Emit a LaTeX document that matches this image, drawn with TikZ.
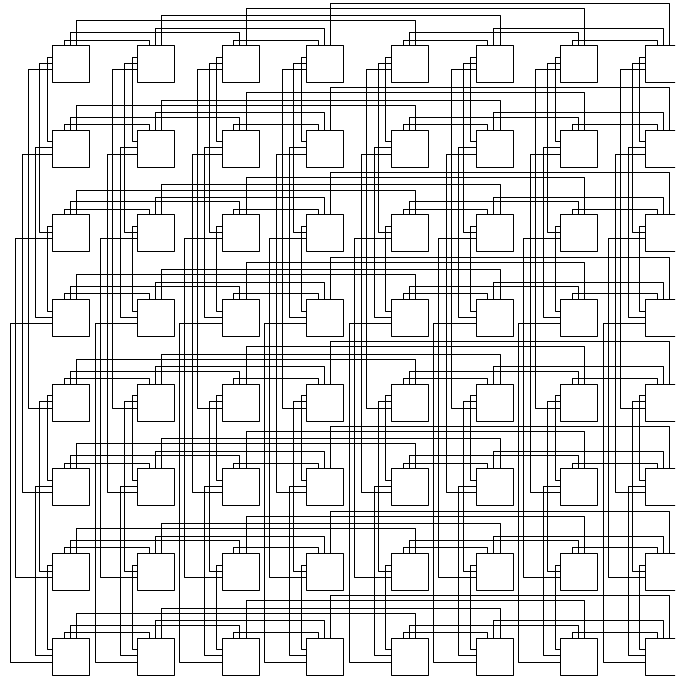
\documentclass[tikz,border=0pt]{standalone}
\usepackage{tikz}

\begin{document}
\begin{tikzpicture}[x=1pt,y=1pt,line join=round,line cap=round,line width=0.9pt,
	box/.style={draw,minimum size=37pt,inner sep=0pt,anchor=north west}]
	\clip (0,0) rectangle (675,677);
	\foreach \row in {0,...,7}
	\foreach \col in {0,...,7}
	\node[box] (b-\row-\col) at ({52.3+84.65*\col},{632-84.65*\row}) {};
	% links inside a row: first, second, port, level
	\foreach \row in {0,...,7}
	\foreach \i/\j/\p/\h in {0/1/12.2/5,2/3/12.2/5,4/5/12.2/5,6/7/12.2/5,
		0/2/18.3/12.5,4/6/18.3/12.5,1/3/18.3/16.8,5/7/18.3/16.8,
		0/4/24.5/24.3,1/5/24.5/29.5,2/6/24.5/36.7,3/7/24.5/41.7}
	\draw ([xshift=\p pt]b-\row-\i.north west) |- ([xshift=\p pt,yshift=\h pt]b-\row-\j.north west) -- ([xshift=\p pt]b-\row-\j.north west);
	% links inside a column
	\foreach \col in {0,...,7}
	\foreach \i/\j/\p/\h in {0/1/12.2/5,2/3/12.2/5,4/5/12.2/5,6/7/12.2/5,
		0/2/18.3/12.5,4/6/18.3/12.5,1/3/18.3/16.8,5/7/18.3/16.8,
		0/4/24.5/24.3,1/5/24.5/29.5,2/6/24.5/36.7,3/7/24.5/41.7}
	\draw ([yshift=-\p pt]b-\i-\col.north west) -| ([xshift=-\h pt,yshift=-\p pt]b-\j-\col.north west) -- ([yshift=-\p pt]b-\j-\col.north west);
\end{tikzpicture}
\end{document}
